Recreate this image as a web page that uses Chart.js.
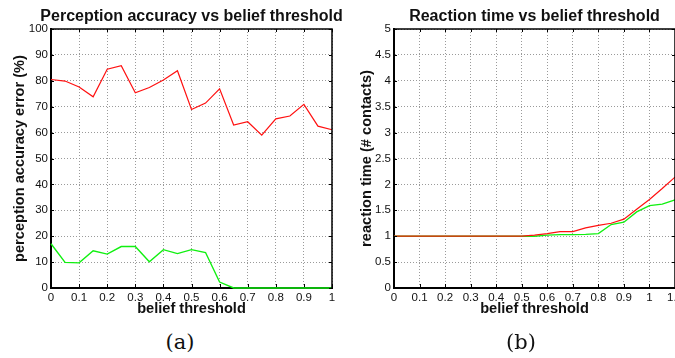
<!DOCTYPE html>
<html>
<head>
<meta charset="utf-8">
<script src="https://cdn.jsdelivr.net/npm/chart.js@4.4.1/dist/chart.umd.min.js"></script>
<style>
  html, body { margin: 0; padding: 0; background: #fff; overflow: hidden; }
  body { width: 675px; height: 358px; position: relative; }
  canvas { position: absolute; top: 0; }
  #accChart { left: 0; }
  #rtChart { left: 340px; }
  .caption {
    position: absolute; top: 330px; width: 60px; text-align: center;
    font-family: "DejaVu Serif", "Liberation Serif", serif; font-size: 21px; color: #111;
  }
</style>
</head>
<body>
<canvas id="accChart" width="352" height="320"></canvas>
<canvas id="rtChart" width="346" height="320"></canvas>
<div class="caption" style="left:150px">(a)</div>
<div class="caption" style="left:491px">(b)</div>

<script>
// belief threshold, sampled every 0.05
const thresholds = [0, 0.05, 0.1, 0.15, 0.2, 0.25, 0.3, 0.35, 0.4, 0.45, 0.5,
  0.55, 0.6, 0.65, 0.7, 0.75, 0.8, 0.85, 0.9, 0.95, 1];
const accErrRed = [80.5, 79.9, 77.6, 73.8, 84.5, 85.8, 75.4, 77.4, 80.3, 83.9, 68.9,
  71.4, 76.9, 62.9, 64.2, 59.0, 65.3, 66.4, 70.9, 62.5, 61.1];
const accErrGreen = [17.1, 9.9, 9.7, 14.4, 13.1, 16.0, 16.0, 10.1, 14.8, 13.3, 14.8,
  13.7, 2.3, 0, 0, 0, 0, 0, 0, 0, 0];

// reaction time runs a little past 1
const rtThresholds = [0, 0.05, 0.1, 0.15, 0.2, 0.25, 0.3, 0.35, 0.4, 0.45, 0.5,
  0.55, 0.6, 0.65, 0.7, 0.75, 0.8, 0.85, 0.9, 0.95, 1, 1.05, 1.1];
const rtRed = [1, 1, 1, 1, 1, 1, 1, 1, 1, 1, 1,
  1.02, 1.05, 1.09, 1.09, 1.16, 1.21, 1.25, 1.33, 1.52, 1.71, 1.92, 2.14];
const rtGreen = [1, 1, 1, 1, 1, 1, 1, 1, 1, 1, 1,
  1.0, 1.02, 1.03, 1.03, 1.035, 1.05, 1.225, 1.27, 1.47, 1.59, 1.62, 1.70];

// axis ticks
const accXTicks = [0, 0.1, 0.2, 0.3, 0.4, 0.5, 0.6, 0.7, 0.8, 0.9, 1];
const accXLabels = ['0', '0.1', '0.2', '0.3', '0.4', '0.5', '0.6', '0.7', '0.8', '0.9', '1'];
const accYTicks = [0, 10, 20, 30, 40, 50, 60, 70, 80, 90, 100];
const accYLabels = ['0', '10', '20', '30', '40', '50', '60', '70', '80', '90', '100'];
const rtXTicks = [0, 0.1, 0.2, 0.3, 0.4, 0.5, 0.6, 0.7, 0.8, 0.9, 1, 1.1];
const rtXLabels = ['0', '0.1', '0.2', '0.3', '0.4', '0.5', '0.6', '0.7', '0.8', '0.9', '1', '1.1'];
const rtYTicks = [0, 0.5, 1, 1.5, 2, 2.5, 3, 3.5, 4, 4.5, 5];
const rtYLabels = ['0', '0.5', '1', '1.5', '2', '2.5', '3', '3.5', '4', '4.5', '5'];

const FONT = '"Liberation Sans", Arial, Helvetica, sans-serif';
Chart.defaults.font.family = FONT;
Chart.defaults.color = '#111';

const toPoints = (xs, ys) => xs.map((x, i) => ({ x: x, y: ys[i] }));

// closed box, inward tick marks on all four sides, and the bold heading
const boxFrame = {
  id: 'boxFrame',
  afterDraw(chart, args, opts) {
    const { ctx, chartArea: a, scales: { x, y } } = chart;
    ctx.save();
    ctx.strokeStyle = '#000';
    ctx.lineWidth = 1.5;
    ctx.beginPath();
    ctx.moveTo(a.left, a.top);
    ctx.lineTo(a.right, a.top);
    ctx.lineTo(a.right, a.bottom);
    ctx.stroke();

    ctx.lineWidth = 1;
    ctx.beginPath();
    x.ticks.forEach(t => {
      const px = Math.round(x.getPixelForValue(t.value)) + 0.5;
      ctx.moveTo(px, a.bottom - 1); ctx.lineTo(px, a.bottom - 4);
      ctx.moveTo(px, a.top); ctx.lineTo(px, a.top + 3);
    });
    y.ticks.forEach(t => {
      const py = Math.round(y.getPixelForValue(t.value)) + 0.5;
      ctx.moveTo(a.left, py); ctx.lineTo(a.left + 3, py);
      ctx.moveTo(a.right, py); ctx.lineTo(a.right - 3, py);
    });
    ctx.stroke();

    ctx.fillStyle = '#111';
    ctx.font = 'bold 16px ' + FONT;
    ctx.textAlign = 'center';
    ctx.textBaseline = 'alphabetic';
    ctx.fillText(opts.text, (a.left + a.right) / 2, 20.5);
    ctx.restore();
  }
};

function makeChart(id, cfg) {
  const fixedTicks = (vals) => (s) => { s.ticks = vals.map(v => ({ value: v })); };
  return new Chart(document.getElementById(id), {
    type: 'line',
    data: {
      datasets: [
        { data: toPoints(cfg.xs, cfg.red), borderColor: '#ff1010', borderWidth: 1.2,
          clip: 1 },
        { data: toPoints(cfg.xs, cfg.green), borderColor: '#10f010', borderWidth: 1.4,
          clip: 1 }
      ]
    },
    options: {
      responsive: false,
      animation: false,
      devicePixelRatio: 1,
      layout: { padding: { top: 29, right: cfg.padRight, left: 0, bottom: 0 } },
      elements: { point: { radius: 0 }, line: { tension: 0 } },
      plugins: {
        legend: { display: false },
        tooltip: { enabled: false },
        boxFrame: { text: cfg.title }
      },
      scales: {
        x: {
          type: 'linear',
          min: 0, max: cfg.xMax,
          afterBuildTicks: fixedTicks(cfg.xTicks),
          afterFit: (s) => { s.height = 32; },
          ticks: {
            padding: 3, maxRotation: 0, autoSkip: false,
            font: { size: 11.5 },
            callback: (v, i) => cfg.xLabels[i]
          },
          grid: { color: '#9a9a9a', lineWidth: 1, drawTicks: false },
          // dash here applies to the grid lines, the axis line stays solid
          border: { display: true, color: '#000', width: 2, dash: [1, 2] },
          title: {
            display: true, text: 'belief threshold', color: '#111',
            font: { size: 14.6, weight: 'bold' }, padding: { top: 0, bottom: 2 }
          }
        },
        y: {
          type: 'linear',
          min: 0, max: cfg.yMax,
          afterBuildTicks: fixedTicks(cfg.yTicks),
          afterFit: (s) => { s.width = cfg.yWidth; },
          ticks: {
            padding: 3, autoSkip: false,
            font: { size: 11.5 },
            callback: (v, i) => cfg.yLabels[i]
          },
          grid: { color: '#9a9a9a', lineWidth: 1, drawTicks: false },
          border: { display: true, color: '#000', width: 2, dash: [1, 2] },
          title: {
            display: true, text: cfg.yTitle, color: '#111',
            font: { size: 14.6, weight: 'bold' }, padding: { top: cfg.yTitlePad, bottom: 0 }
          }
        }
      }
    },
    plugins: [boxFrame]
  });
}

makeChart('accChart', {
  title: 'Perception accuracy vs belief threshold',
  yTitle: 'perception accuracy error (%)',
  xs: thresholds, red: accErrRed, green: accErrGreen,
  xMax: 1, yMax: 100,
  xTicks: accXTicks, xLabels: accXLabels, yTicks: accYTicks, yLabels: accYLabels,
  yWidth: 51, yTitlePad: 11, padRight: 20
});

makeChart('rtChart', {
  title: 'Reaction time vs belief threshold',
  yTitle: 'reaction time (# contacts)',
  xs: rtThresholds, red: rtRed, green: rtGreen,
  xMax: 1.1, yMax: 5,
  xTicks: rtXTicks, xLabels: rtXLabels, yTicks: rtYTicks, yLabels: rtYLabels,
  yWidth: 54, yTitlePad: 18, padRight: 10
});
</script>
</body>
</html>
